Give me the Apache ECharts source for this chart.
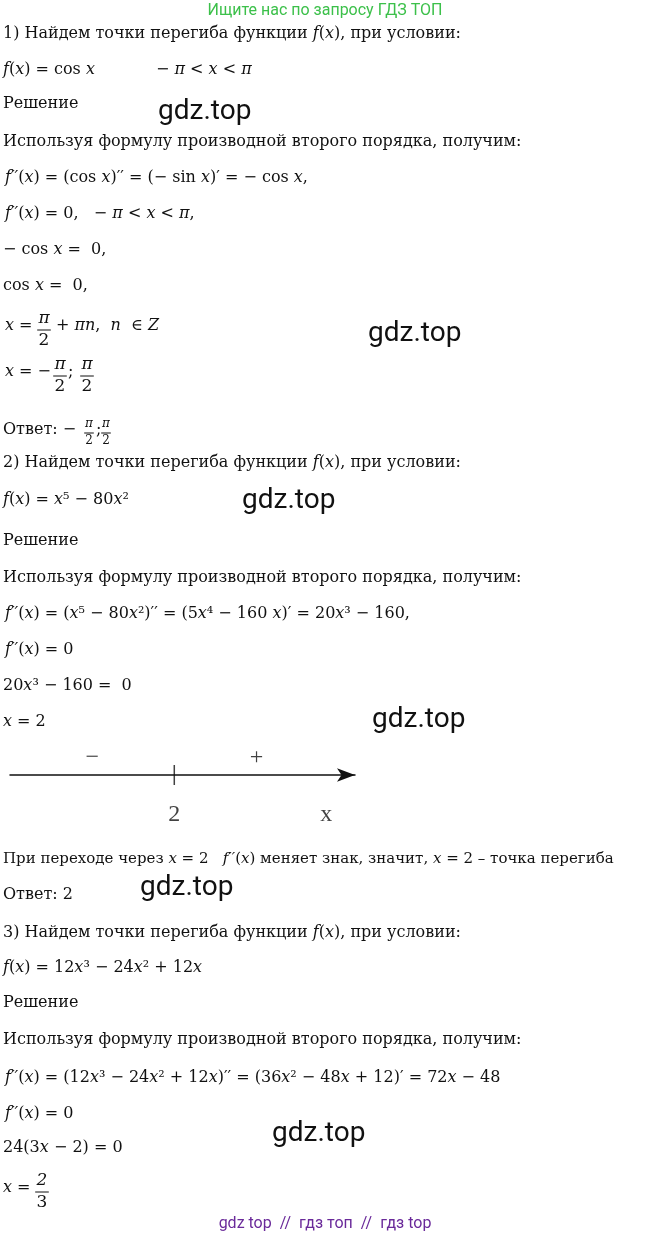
<!DOCTYPE html>
<html><head><meta charset="utf-8">
<script src="https://cdn.jsdelivr.net/npm/echarts@6/dist/echarts.min.js"></script>
<style>html,body{margin:0;padding:0;background:#fff}#c{width:650px;height:1241px}</style>
</head><body><div id="c"></div>
<script>
// Number-line data
const lineCategories = ['−', '2', '+'];
const lineValues = [1, 2, 3];
const lineTickLabels = ['2', 'x'];

// Text lines [x, y(top), text, size]
const textLines = [
 [3, 26, '1) Найдем точки перегиба функции {i|f}({i|x}), при условии:'],
 [3, 62, '{i|f}({i|x}) = cos {i|x}            − {i|π} < {i|x} < {i|π}'],
 [3, 96, 'Решение'],
 [3, 134, 'Используя формулу производной второго порядка, получим:'],
 [5, 170, '{i|f\u2032\u2032}({i|x}) = (cos {i|x})\u2032\u2032 = (− sin {i|x})\u2032 = − cos {i|x},'],
 [5, 206, '{i|f\u2032\u2032}({i|x}) = 0,   − {i|π} < {i|x} < {i|π},'],
 [3, 242, '− cos {i|x} =  0,'],
 [3, 278, 'cos {i|x} =  0,'],
 [5, 318, '{i|x} ='], [56, 318, '+ {i|πn},  {i|n}  ∈ {i|Z}'],
 [5, 364, '{i|x} = −'], [68, 364, ';'],
 [3, 422, 'Ответ: −'], [96, 422, ';'],
 [3, 455, '2) Найдем точки перегиба функции {i|f}({i|x}), при условии:'],
 [3, 492, '{i|f}({i|x}) = {i|x}⁵ − 80{i|x}²'],
 [3, 533, 'Решение'],
 [3, 570, 'Используя формулу производной второго порядка, получим:'],
 [5, 606, '{i|f\u2032\u2032}({i|x}) = ({i|x}⁵ − 80{i|x}²)\u2032\u2032 = (5{i|x}⁴ − 160 {i|x})\u2032 = 20{i|x}³ − 160,'],
 [5, 642, '{i|f\u2032\u2032}({i|x}) = 0'],
 [3, 678, '20{i|x}³ − 160 =  0'],
 [3, 714, '{i|x} = 2'],
 [3, 852, 'При переходе через {i|x} = 2   {i|f\u2032\u2032}({i|x}) меняет знак, значит, {i|x} = 2 – точка перегиба', 15],
 [3, 887, 'Ответ: 2'],
 [3, 925, '3) Найдем точки перегиба функции {i|f}({i|x}), при условии:'],
 [3, 960, '{i|f}({i|x}) = 12{i|x}³ − 24{i|x}² + 12{i|x}'],
 [3, 995, 'Решение'],
 [3, 1032, 'Используя формулу производной второго порядка, получим:'],
 [5, 1070, '{i|f\u2032\u2032}({i|x}) = (12{i|x}³ − 24{i|x}² + 12{i|x})\u2032\u2032 = (36{i|x}² − 48{i|x} + 12)\u2032 = 72{i|x} − 48'],
 [5, 1106, '{i|f\u2032\u2032}({i|x}) = 0'],
 [3, 1140, '24(3{i|x} − 2) = 0'],
 [3, 1180, '{i|x} =']
];
// fractions [x center, y of bar, num, den, size]
const fractions = [
 [44, 330, 'π', '2', 17], [60, 376, 'π', '2', 17], [87, 376, 'π', '2', 17],
 [89, 433, 'π', '2', 12], [106, 433, 'π', '2', 12], [42, 1192, '2', '3', 17]
];
const watermarks = [[158, 98], [368, 320], [242, 487], [372, 706], [140, 874], [272, 1120]];

const FONT = 'DejaVu Serif';
const g = [];
g.push({type:'text', left:'center', top:3, style:{text:'Ищите нас по запросу ГДЗ ТОП', fill:'#3cc04a', font:'16px Roboto'}});
g.push({type:'text', left:'center', top:1216, style:{text:'gdz top  //  гдз топ  //  гдз top', fill:'#6a2a9a', font:'16px Roboto'}});
textLines.forEach(([x,y,t,s]) => { s = s || 16; g.push({type:'text', x, y, style:{text:t, fill:'#111', font:s+'px '+FONT, rich:{i:{fontStyle:'italic', fontFamily:FONT, fontSize:s, fill:'#111'}}}}); });
fractions.forEach(([x,y,n,d,s]) => {
  g.push({type:'text', x, y:y-s-3, style:{text:n, fill:'#111', font:'italic '+s+'px '+FONT, align:'center'}});
  g.push({type:'line', shape:{x1:x-s*0.4, y1:y, x2:x+s*0.4, y2:y}, style:{stroke:'#111', lineWidth:1}});
  g.push({type:'text', x, y:y+2, style:{text:d, fill:'#111', font:s+'px '+FONT, align:'center'}});
});
watermarks.forEach(([x,y]) => g.push({type:'text', x, y, style:{text:'gdz.top', fill:'#111', font:'28px Roboto'}}));

const chart = echarts.init(document.getElementById('c'));
chart.setOption({
  animation:false,
  grid:{left:10, top:740, width:345, height:35},
  xAxis:{type:'value', min:0, max:4.2, axisLine:{onZero:false, lineStyle:{color:'#111', width:1.5}, symbol:['none','arrow'], symbolSize:[10,18]},
    axisTick:{show:false}, splitLine:{show:false}, axisLabel:{show:false}},
  yAxis:{type:'value', min:0, max:1, show:false},
  series:[
    {type:'scatter', data:[[lineValues[1],0]], symbol:'rect', symbolSize:[1.5,20], itemStyle:{color:'#111'},
      label:{show:true, position:'bottom', distance:18, formatter:lineTickLabels[0], fontFamily:'Liberation Serif', fontSize:24, color:'#111'}},
    {type:'scatter', data:[[3.85,0]], symbolSize:0,
      label:{show:true, position:'bottom', distance:28, formatter:lineTickLabels[1], fontFamily:'Liberation Serif', fontSize:24, color:'#111'}},
    {type:'scatter', data:[[lineValues[0],0.5],[lineValues[2],0.5]], symbolSize:0,
      label:{show:true, position:'inside', formatter:p=>lineCategories[p.dataIndex===0?0:2], fontFamily:'Liberation Serif', fontSize:24, color:'#111'}}
  ],
  graphic:g
});
</script></body></html>
